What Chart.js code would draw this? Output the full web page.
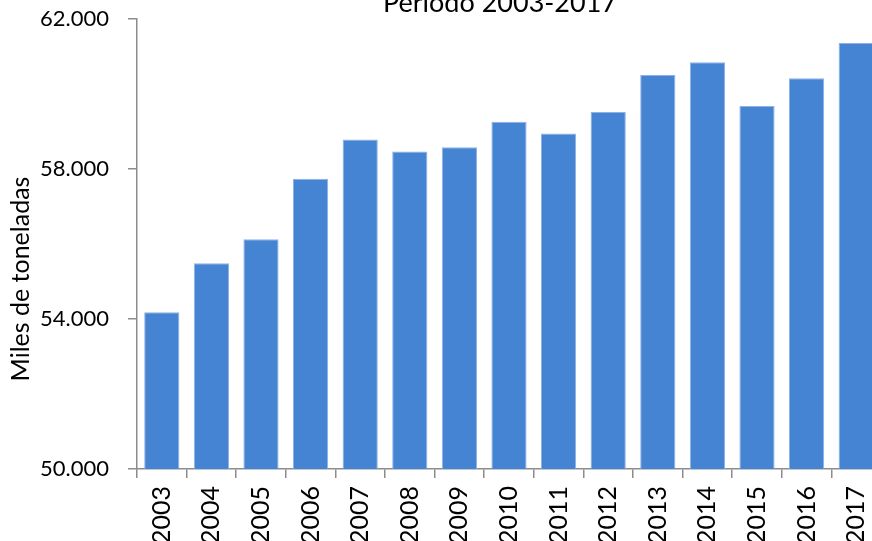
<!DOCTYPE html>
<html>
<head>
<meta charset="utf-8">
<script src="https://cdn.jsdelivr.net/npm/chart.js@4/dist/chart.umd.min.js"></script>
<style>
  html, body { margin: 0; padding: 0; background: #fff; overflow: hidden; }
  canvas { display: block; }
</style>
</head>
<body>
<canvas id="main-chart"></canvas>
<script>
const years = ['2003', '2004', '2005', '2006', '2007', '2008', '2009', '2010',
  '2011', '2012', '2013', '2014', '2015', '2016', '2017'];
const tonnes = [54180, 55485, 56125, 57740, 58790, 58470, 58580, 59260,
  58950, 59520, 60510, 60845, 59680, 60420, 61360];
const yTicks = [50000, 54000, 58000, 62000];
const chartTitle = 'Período 2003-2017';
const yLabel = 'Miles de toneladas';

const FONT = 'Lato, "DejaVu Sans", sans-serif';
const AXIS = '#8c8c8c';

// title sits half off the top edge, y label is drawn a bit below the axis middle
const textPlugin = {
  id: 'texts',
  afterDraw(chart) {
    const ctx = chart.ctx;
    ctx.save();
    ctx.fillStyle = '#000';
    ctx.font = '27px ' + FONT;
    ctx.textAlign = 'center';
    ctx.textBaseline = 'alphabetic';
    ctx.fillText(chartTitle, 500, 12);

    ctx.font = '25px ' + FONT;
    ctx.translate(21, 279);
    ctx.rotate(-Math.PI / 2);
    ctx.textBaseline = 'middle';
    ctx.fillText(yLabel, 0, 0);
    ctx.restore();
  }
};

document.addEventListener('DOMContentLoaded', () => {
  const canvas1 = document.getElementById('main-chart');
  canvas1.setAttribute('width', '884');
  canvas1.setAttribute('height', '541');

  new Chart(canvas1, {
    type: 'bar',
    data: {
      labels: years,
      datasets: [{
        data: tonnes,
        backgroundColor: '#4584d3',
        borderColor: '#8fb2e4',
        borderWidth: 1,
        barPercentage: 0.71,
        categoryPercentage: 1
      }]
    },
    plugins: [textPlugin],
    options: {
      responsive: false,
      animation: false,
      layout: { padding: { top: 19, right: 3, left: 0, bottom: 0 } },
      plugins: {
        legend: { display: false },
        title: { display: false },
        tooltip: { enabled: false }
      },
      scales: {
        x: {
          grid: {
            offset: true,
            drawOnChartArea: false,
            tickLength: 9,
            color: AXIS,
            lineWidth: 1.5
          },
          border: { color: AXIS, width: 1.5 },
          ticks: {
            color: '#000',
            font: { family: FONT, size: 25 },
            minRotation: 90,
            maxRotation: 90,
            padding: 8,
            autoSkip: false
          },
          afterFit(scale) {
            scale.height = 72;
            scale.paddingLeft = 0;
            scale.paddingRight = 0;
          }
        },
        y: {
          min: 50000,
          max: 62000,
          afterBuildTicks(scale) {
            scale.ticks = yTicks.map(v => ({ value: v }));
          },
          grid: {
            drawOnChartArea: false,
            tickLength: 9,
            color: AXIS,
            lineWidth: 1.5
          },
          border: { color: AXIS, width: 1.5 },
          ticks: {
            color: '#000',
            font: { family: FONT, size: 22 },
            padding: 19,
            callback: v => String(v).replace(/\B(?=(\d{3})+(?!\d))/g, '.')
          },
          afterFit(scale) {
            scale.width = 137;
            scale.paddingTop = 0;
            scale.paddingBottom = 0;
          }
        }
      }
    }
  });
});
</script>
</body>
</html>
